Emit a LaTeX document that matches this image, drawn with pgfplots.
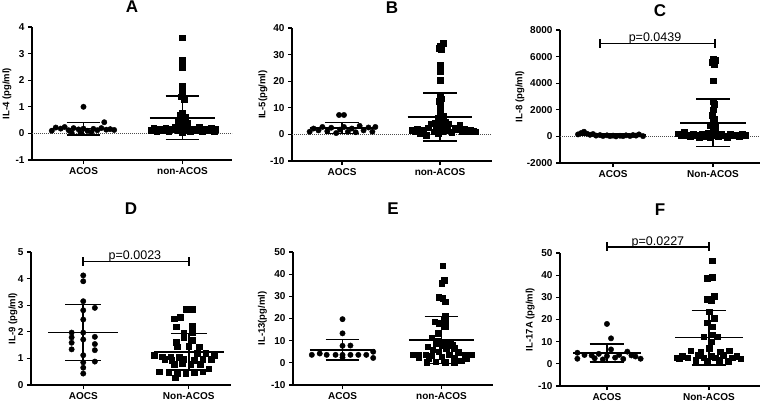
\documentclass[border=0pt]{standalone}
\usepackage{fontspec}
\setmainfont{Liberation Sans}
\usepackage{pgfplots}
\pgfplotsset{compat=1.18}
\pgfplotsset{
 panel/.style={
  scale only axis, width=200pt, height=133pt,
  axis lines=left, axis line style={-, line width=1.3pt},
  enlargelimits=false, clip=false,
  tick align=outside, major tick length=4pt,
  tick style={black, line width=1.3pt},
  xtick={0,1},
  tick label style={font=\bfseries\fontsize{10}{12}\selectfont},
  /pgf/number format/assume math mode=true,
  /pgf/number format/1000 sep={},
  scaled y ticks=false,
  ylabel style={font=\bfseries\fontsize{9.5}{11}\selectfont, anchor=center},
  title style={font=\bfseries\fontsize{17}{19}\selectfont, anchor=center, inner sep=0pt},
 },
 ptc/.style={only marks, mark=*, mark size=2.7pt, black, mark options={fill=black}},
 pts/.style={only marks, mark=square*, mark size=2.8pt, black, mark options={fill=black}},
 sdline/.style={black, line width=1.6pt, no marks},
 zero/.style={black!70, densely dotted, line width=1pt, no marks},
 brk/.style={black, line width=1.6pt, mark=|, mark size=4.5pt, mark options={line width=1.6pt}},
}
% mean/SD at x=0 : #1 mean, #2 low, #3 high
\newcommand{\msdL}[3]{%
 \addplot[sdline] coordinates {(-0.33,#1) (0.33,#1)};
 \addplot[sdline] coordinates {(-0.17,#3) (0.17,#3)};
 \addplot[sdline] coordinates {(-0.17,#2) (0.17,#2)};
 \addplot[sdline] coordinates {(0,#2) (0,#3)};}
% mean/SD at x=1
\newcommand{\msdR}[3]{%
 \addplot[sdline] coordinates {(0.67,#1) (1.33,#1)};
 \addplot[sdline] coordinates {(0.83,#3) (1.17,#3)};
 \addplot[sdline] coordinates {(0.83,#2) (1.17,#2)};
 \addplot[sdline] coordinates {(1,#2) (1,#3)};}
\begin{document}
\begin{tikzpicture}
\path[use as bounding box] (0pt,0pt) rectangle (765pt,405pt);

% ---------------- A ----------------
\begin{axis}[panel, at={(32pt,245pt)}, anchor=south west,
 xmin=-0.52, xmax=1.5, ymin=-1, ymax=4, ytick={-1,0,1,2,3,4},
 xticklabels={ACOS,non-ACOS}, ylabel={IL-4 (pg/ml)},
 ylabel style={at={(axis description cs:-0.125,0.5)}},
 title={A}, title style={at={(axis description cs:0.5,1.11)}}]
\addplot[zero] coordinates {(-0.52,0) (1.5,0)};
\addplot[ptc] coordinates {(-0.32,0.10) (-0.28,0.22) (-0.23,0.18) (-0.19,0.24) (-0.15,0.12) (-0.12,0.03) (-0.10,0.20) (-0.05,0.15) (-0.03,0.02) (0,1.00) (0,0.18) (0.04,0.10) (0.08,0.05) (0.10,0.17) (0.14,0.12) (0.18,0.20) (0.21,0.42) (0.23,0.14) (0.27,0.16) (0.31,0.13)};
\addplot[pts] coordinates {(1,3.6) (1,2.75) (1,2.65) (1,2.5) (1,1.78) (1,1.68) (1,1.58) (0.98,1.38) (1.02,1.28) (1,0.78) (0.97,0.7) (1.03,0.62) (1,0.52) (0.95,0.42) (1.05,0.38) (1,0.32)
 (0.68,0.12) (0.71,0.2) (0.74,0.08) (0.77,0.18) (0.8,0.1) (0.83,0.22) (0.86,0.06) (0.89,0.15) (0.92,0.25) (0.95,0.1) (0.97,0.2) (1,0.05) (1,0.15) (1.03,0.1) (1.05,0.22) (1.08,0.06) (1.11,0.18) (1.14,0.1) (1.17,0.24) (1.2,0.08) (1.23,0.16) (1.26,0.12) (1.29,0.2) (1.32,0.08) (1.33,0.15)};
\msdL{0.18}{-0.05}{0.41}
\msdR{0.58}{-0.23}{1.40}
\end{axis}

% ---------------- B ----------------
\begin{axis}[panel, at={(292pt,244pt)}, anchor=south west,
 xmin=-0.51, xmax=1.53, ymin=-10, ymax=40, ytick={-10,0,10,20,30,40},
 xticklabels={AOCS,non-ACOS}, ylabel={IL-5(pg/ml)},
 ylabel style={at={(axis description cs:-0.145,0.5)}},
 title={B}, title style={at={(axis description cs:0.5,1.11)}}]
\addplot[zero] coordinates {(-0.51,0) (1.53,0)};
\addplot[ptc] coordinates {(-0.33,1.0) (-0.29,2.2) (-0.24,1.5) (-0.2,2.8) (-0.15,1.2) (-0.11,2.5) (-0.06,0.5) (-0.03,7.3) (0.02,7.3) (-0.02,1.8) (0.02,2.8) (0.06,1.0) (0.1,2.2) (0.14,0.8) (0.18,3.2) (0.22,1.5) (0.27,2.6) (0.31,1.0) (0.34,2.8)};
\addplot[pts] coordinates {(1.03,34.3) (1.0,33.3) (0.99,32.4) (1.01,31.8) (1,26.0) (1,25.0) (1,24.3) (1,23.6) (1,20.4) (1,14.5) (1.01,13.4) (0.99,12.5) (1,11.5) (1,10.0) (1,8.0) (1.03,7.0) (0.98,6.0) (1,5.0) (0.95,4.2) (1.05,4.5)
 (0.71,1.5) (0.74,1.0) (0.77,2.0) (0.8,0.5) (0.83,1.5) (0.86,-0.2) (0.88,2.5) (0.91,4.0) (0.94,1.0) (0.96,3.5) (0.98,0.5) (1.0,2.0) (1.02,1.0) (1.04,3.0) (1.07,1.5) (1.09,4.0) (1.12,0.8) (1.15,2.5) (1.17,1.8) (1.2,3.5) (1.22,1.2) (1.25,2.0) (1.28,1.0) (1.31,1.5) (1.34,1.2) (1.36,1.0)};
\msdL{2.4}{0.4}{4.4}
\msdR{6.5}{-2.5}{15.6}
\end{axis}

% ---------------- C ----------------
\begin{axis}[panel, at={(560pt,242pt)}, anchor=south west,
 xmin=-0.53, xmax=1.47, ymin=-2000, ymax=8000, ytick={-2000,0,2000,4000,6000,8000},
 xticklabels={ACOS,Non-ACOS}, ylabel={IL-8 (pg/ml)},
 ylabel style={at={(axis description cs:-0.2,0.5)}},
 title={C}, title style={at={(axis description cs:0.5,1.10)}}]
\addplot[zero] coordinates {(-0.53,0) (1.47,0)};
\addplot[ptc] coordinates {(-0.35,150) (-0.32,250) (-0.29,350) (-0.26,200) (-0.23,120) (-0.2,180) (-0.17,60) (-0.13,100) (-0.1,30) (-0.06,80) (-0.03,20) (0.0,60) (0.03,0) (0.07,50) (0.1,20) (0.13,80) (0.17,30) (0.2,100) (0.23,60) (0.26,150) (0.3,20)};
\addplot[pts] coordinates {(1.0,5850) (1.02,5750) (0.99,5600) (1.01,5400) (1,4200) (1,2600) (1.01,2400) (1,2000) (0.99,1600) (1.01,1300) (1,1100) (0.97,800) (1.02,700) (1,550)
 (0.65,200) (0.68,50) (0.71,300) (0.74,100) (0.77,0) (0.8,200) (0.83,80) (0.86,-100) (0.89,150) (0.92,30) (0.95,250) (0.97,-50) (1.0,100) (1.02,300) (1.05,0) (1.08,150) (1.11,60) (1.14,-80) (1.17,200) (1.2,50) (1.23,120) (1.26,0) (1.29,180) (1.32,80)};
\msdL{110}{10}{220}
\msdR{1008}{-770}{2790}
\addplot[brk] coordinates {(-0.13,7000) (1.02,7000)};
\node[font=\fontsize{12.5}{14}\selectfont, anchor=base] at (axis cs:0.42,7150) {p=0.0439};
\end{axis}

% ---------------- D ----------------
\begin{axis}[panel, at={(31pt,20pt)}, anchor=south west,
 xmin=-0.495, xmax=1.4, ymin=0, ymax=5, ytick={0,1,2,3,4,5},
 xticklabels={AOCS,Non-ACOS}, ylabel={IL-9 (pg/ml)},
 ylabel style={at={(axis description cs:-0.09,0.5)}},
 title={D}, title style={at={(axis description cs:0.5,1.278)}}]
\addplot[ptc] coordinates {(0,4.12) (0,3.9) (0,3.15) (0.11,2.9) (0,2.81) (0,2.46) (-0.11,1.97) (0,1.97) (0.11,1.81) (-0.11,1.79) (0,1.71) (-0.11,1.59) (0.11,1.54) (-0.11,1.34) (0.11,1.31) (0,1.12) (0,0.85) (0.11,0.88) (0,0.65) (0,0.43)};
\addplot[pts] coordinates {(0.97,2.84) (1.03,2.84) (0.86,2.5) (0.92,2.56) (0.88,2.19) (1.03,2.22) (0.95,1.94) (1.03,1.96) (0.88,1.62) (0.95,1.78) (1.03,1.69) (0.89,1.44) (1.0,1.46) (1.1,1.44)
 (0.67,1.12) (0.75,1.06) (0.83,1.06) (0.91,1.04) (1.08,1.19) (1.16,1.19) (1.24,1.12)
 (0.77,0.96) (0.84,0.94) (0.95,0.96) (1.05,0.94) (1.13,0.96) (1.21,0.96)
 (0.86,0.78) (0.94,0.81) (1.02,0.79) (1.11,0.79)
 (0.72,0.5) (0.81,0.48) (0.89,0.44) (0.97,0.44) (1.05,0.46) (1.13,0.5) (1.19,0.62) (0.87,0.28)};
\msdL{1.97}{0.92}{3.02}
\msdR{1.25}{0.56}{1.94}
\addplot[brk] coordinates {(0,4.64) (1,4.64)};
\node[font=\fontsize{12.5}{14}\selectfont, anchor=base] at (axis cs:0.49,4.72) {p=0.0023};
\end{axis}

% ---------------- E ----------------
\begin{axis}[panel, at={(293pt,20pt)}, anchor=south west,
 xmin=-0.5, xmax=1.52, ymin=-10, ymax=50, ytick={-10,0,10,20,30,40,50},
 xticklabels={ACOS,non-ACOS}, ylabel={IL-13(pg/ml)},
 ylabel style={at={(axis description cs:-0.153,0.5)}},
 title={E}, title style={at={(axis description cs:0.5,1.278)}}]
\addplot[ptc] coordinates {(-0.31,3.6) (-0.23,4.2) (-0.16,3.6) (-0.07,3.6) (0,3.6) (0,2.4) (0,7.7) (0,13.3) (0,19.7) (0.08,7.8) (0.08,3.6) (0.16,3.6) (0.24,3.6) (0.31,5.0) (0.31,2.2)};
\addplot[pts] coordinates {(1.01,43.8) (1.03,37.3) (1.0,35.9) (0.97,29.5) (1.01,29.1) (1.04,27.6) (1.04,21.2) (0.93,18.5) (0.97,17.8) (1.04,18.5) (1.04,16.3) (0.96,13.3)
 (0.9,11.3) (0.96,10) (0.94,8.8) (1.04,9.3) (1.09,9.3) (0.86,7.3) (1.0,8) (1.11,8) (0.91,6) (1.05,6.3) (1.13,6.5) (0.71,3.6) (0.77,3.6) (0.97,5) (1.17,4.7) (1.24,3.6) (0.84,3.6) (0.9,3.2) (1.08,3.6) (1.3,3.6) (0.77,2.3) (0.87,1.8) (1.0,2.8) (1.13,2.0) (1.25,2.0) (0.94,0.5) (1.04,0.2) (1.13,0.2) (0.85,0.2) (1.2,1.0)};
\msdL{5.9}{1.2}{10.6}
\msdR{10.3}{-0.3}{20.9}
\end{axis}

% ---------------- F ----------------
\begin{axis}[panel, at={(560pt,19pt)}, anchor=south west,
 xmin=-0.46, xmax=1.5, ymin=-10, ymax=50, ytick={-10,0,10,20,30,40,50},
 xticklabels={ACOS,Non-ACOS}, ylabel={IL-17A (pg/ml)},
 ylabel style={at={(axis description cs:-0.149,0.5)}},
 title={F}, title style={at={(axis description cs:0.5,1.278)}}]
\addplot[ptc] coordinates {(-0.29,5) (-0.29,2.3) (-0.22,4) (-0.15,3.8) (-0.08,4.5) (-0.04,2) (0,18) (0.04,11.5) (0.04,6.5) (0,3.5) (0.08,2.8) (0.12,4) (0.16,2.2) (0.2,5.5) (0.24,3.8) (0.28,3.3) (0.33,2.3) (-0.12,2.5)};
\addplot[pts] coordinates {(1.03,46.5) (0.98,38.6) (1.03,39.2) (0.98,29.1) (1.02,28.5) (1.05,30.6) (1.0,23.5) (0.98,18.5) (1.05,20.6) (1.03,16.8) (0.95,12.3) (1.03,13.2) (1.08,12.3) (1.02,10) (1.0,7.0)
 (0.82,6) (0.92,5.5) (1.11,5.5) (1.2,6) (0.74,3.4) (0.89,4) (1.02,3.4) (1.14,4) (1.27,3.4) (0.71,2.3) (0.79,2.8) (0.95,2.8) (1.06,2.8) (1.23,2.8) (1.31,2.3) (0.87,1.7) (0.98,1.3) (1.1,1.7) (1.19,1.3) (0.69,2.8)};
\msdL{4.9}{0.9}{8.9}
\msdR{11.8}{-0.4}{24.0}
\addplot[brk] coordinates {(0,52.8) (1,52.8)};
\node[font=\fontsize{12.5}{14}\selectfont, anchor=base] at (axis cs:0.5,53.6) {p=0.0227};
\end{axis}
\end{tikzpicture}
\end{document}
